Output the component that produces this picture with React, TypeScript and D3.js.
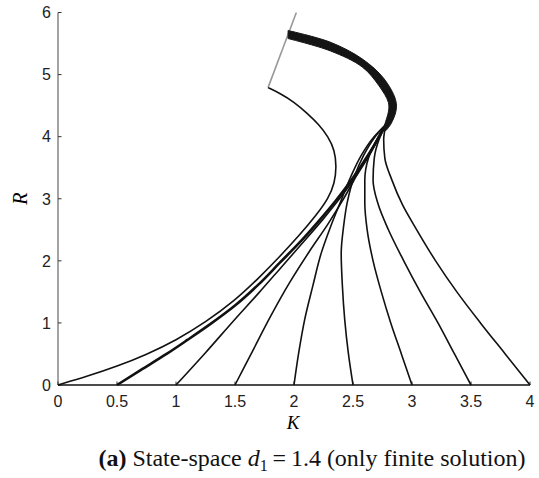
import React, { useRef, useEffect } from 'react';
import * as d3 from 'd3';

type Pt = [number, number];

// tick labels
const kTicks = [0, 0.5, 1, 1.5, 2, 2.5, 3, 3.5, 4];
const rTicks = [0, 1, 2, 3, 4, 5, 6];

// trajectories in (K, R)
const fromK0: Pt[] = [
  [0, 0], [0.25, 0.14], [0.5, 0.3], [0.75, 0.49], [1.0, 0.72], [1.25, 1.01],
  [1.5, 1.36], [1.7, 1.72], [1.88, 2.07], [2.05, 2.42], [2.19, 2.74], [2.29, 3.0],
  [2.345, 3.25], [2.36, 3.52], [2.345, 3.78], [2.29, 4.0], [2.21, 4.2], [2.11, 4.38],
  [2.0, 4.56], [1.88, 4.7], [1.78, 4.79],
];
const fromK05: Pt[] = [
  [0.5, 0], [0.7, 0.24], [0.92, 0.5], [1.1, 0.73], [1.29, 0.98], [1.5, 1.28],
  [1.7, 1.62], [1.88, 1.97], [2.05, 2.3], [2.2, 2.62], [2.35, 2.96], [2.5, 3.34],
  [2.65, 3.77], [2.78, 4.2],
];
const fromK1: Pt[] = [
  [1.0, 0], [1.25, 0.52], [1.5, 1.06], [1.7, 1.48], [1.88, 1.87], [2.05, 2.24],
  [2.25, 2.68], [2.45, 3.16], [2.62, 3.64], [2.78, 4.2],
];
const fromK15: Pt[] = [
  [1.5, 0], [1.65, 0.55], [1.8, 1.1], [1.96, 1.64], [2.13, 2.15], [2.29, 2.6],
  [2.42, 3.0], [2.55, 3.44], [2.67, 3.84], [2.78, 4.2],
];
const fromK2: Pt[] = [
  [2.0, 0], [2.04, 0.52], [2.09, 1.05], [2.16, 1.6], [2.23, 2.12], [2.31, 2.55],
  [2.39, 2.93], [2.48, 3.35], [2.57, 3.7], [2.67, 3.98], [2.78, 4.2],
];
const fromK25: Pt[] = [
  [2.5, 0], [2.46, 0.52], [2.43, 1.05], [2.41, 1.6], [2.4, 2.12], [2.42, 2.55],
  [2.45, 2.93], [2.51, 3.35], [2.59, 3.7], [2.68, 3.98], [2.78, 4.2],
];
const fromK3: Pt[] = [
  [3.0, 0], [2.91, 0.5], [2.82, 1.0], [2.74, 1.5], [2.67, 2.0], [2.62, 2.5],
  [2.6, 2.93], [2.6, 3.3], [2.63, 3.65], [2.7, 3.95], [2.78, 4.2],
];
const fromK35: Pt[] = [
  [3.5, 0], [3.36, 0.5], [3.22, 1.0], [3.07, 1.5], [2.93, 2.0], [2.8, 2.5],
  [2.71, 2.93], [2.67, 3.3], [2.68, 3.65], [2.72, 3.95], [2.78, 4.2],
];
const fromK4: Pt[] = [
  [4.0, 0], [3.79, 0.5], [3.58, 1.0], [3.38, 1.5], [3.2, 2.0], [3.04, 2.5],
  [2.92, 2.9], [2.83, 3.3], [2.77, 3.65], [2.76, 3.95], [2.78, 4.2],
];

// bundle of trajectories after they merge
const bandOuter: Pt[] = [
  [1.95, 5.71], [2.31, 5.52], [2.58, 5.25], [2.76, 4.94], [2.86, 4.6],
  [2.865, 4.42], [2.82, 4.2], [2.78, 4.1],
];
const bandInner: Pt[] = [
  [1.95, 5.58], [2.31, 5.38], [2.58, 5.12], [2.72, 4.82], [2.8, 4.55],
  [2.8, 4.4], [2.77, 4.2], [2.76, 4.1],
];

// grey boundary line
const boundary: Pt[] = [[1.78, 4.79], [2.02, 6.0]];

const fan = [fromK1, fromK15, fromK2, fromK25, fromK3, fromK35, fromK4];

const App = () => {
  const svgRef = useRef<SVGSVGElement>(null);
  const width = 539;
  const height = 478;

  useEffect(() => {
    const svg = d3.select(svgRef.current);
    svg.selectAll('*').remove();

    const x = d3.scaleLinear().domain([0, 4]).range([58, 530]);
    const y = d3.scaleLinear().domain([0, 6]).range([385, 12.5]);

    const line = d3.line<Pt>()
      .x(d => x(d[0]))
      .y(d => y(d[1]))
      .curve(d3.curveCatmullRom.alpha(0.5));

    const smooth = d3.line<Pt>()
      .x(d => x(d[0]))
      .y(d => y(d[1]))
      .curve(d3.curveBasis);

    // trajectories are monotone in R, draw them top-down so screen y increases
    const traj = d3.line<Pt>()
      .x(d => x(d[0]))
      .y(d => y(d[1]))
      .curve(d3.curveMonotoneY);
    const trajPath = (pts: Pt[]) => traj(pts.slice().reverse());

    const sans = '"Liberation Sans", Arial, sans-serif';
    const serif = '"Liberation Serif", "Times New Roman", serif';

    // y axis
    svg.append('line')
      .attr('x1', x(0)).attr('x2', x(0))
      .attr('y1', y(0)).attr('y2', y(6))
      .attr('stroke', '#666').attr('stroke-width', 1.2);

    rTicks.forEach(t => {
      svg.append('line')
        .attr('x1', x(0)).attr('x2', x(0) + 3.5)
        .attr('y1', y(t)).attr('y2', y(t))
        .attr('stroke', '#333').attr('stroke-width', 1);
      svg.append('text')
        .attr('x', x(0) - 7)
        .attr('y', y(t))
        .attr('dy', '0.36em')
        .attr('text-anchor', 'end')
        .style('font-family', sans)
        .style('font-size', '16px')
        .style('fill', '#222')
        .text(t);
    });

    // x axis
    kTicks.forEach(t => {
      svg.append('line')
        .attr('x1', x(t)).attr('x2', x(t))
        .attr('y1', y(0)).attr('y2', y(0) - 3.5)
        .attr('stroke', '#333').attr('stroke-width', 1);
      svg.append('text')
        .attr('x', x(t))
        .attr('y', y(0) + 22)
        .attr('text-anchor', 'middle')
        .style('font-family', sans)
        .style('font-size', '16px')
        .style('fill', '#222')
        .text(t);
    });

    // boundary
    svg.append('path')
      .attr('d', line(boundary))
      .attr('fill', 'none')
      .attr('stroke', '#999')
      .attr('stroke-width', 1.6);

    // trajectories
    svg.append('path')
      .attr('d', smooth(fromK0))
      .attr('fill', 'none')
      .attr('stroke', '#111')
      .attr('stroke-width', 1.6);

    svg.append('path')
      .attr('d', trajPath(fromK05))
      .attr('fill', 'none')
      .attr('stroke', '#111')
      .attr('stroke-width', 2.6);

    fan.forEach(pts => {
      svg.append('path')
        .attr('d', trajPath(pts))
        .attr('fill', 'none')
        .attr('stroke', '#111')
        .attr('stroke-width', 1.6);
    });

    // merged bundle
    const outerPath = line(bandOuter) || '';
    const innerPath = (line(bandInner.slice().reverse()) || '').replace(/^M/, 'L');
    svg.append('path')
      .attr('d', outerPath + innerPath + 'Z')
      .attr('fill', '#151515')
      .attr('stroke', '#151515')
      .attr('stroke-width', 1);

    svg.append('line')
      .attr('x1', x(0)).attr('x2', x(4))
      .attr('y1', y(0)).attr('y2', y(0))
      .attr('stroke', '#111').attr('stroke-width', 1.3);

    // axis titles
    svg.append('text')
      .attr('transform', `translate(27, ${y(3)}) rotate(-90)`)
      .attr('text-anchor', 'middle')
      .style('font-family', serif)
      .style('font-style', 'italic')
      .style('font-size', '20px')
      .text('R');

    svg.append('text')
      .attr('x', x(2) - 1)
      .attr('y', 429)
      .attr('text-anchor', 'middle')
      .style('font-family', serif)
      .style('font-style', 'italic')
      .style('font-size', '19px')
      .text('K');

    // caption
    const cap = svg.append('text')
      .attr('x', 312)
      .attr('y', 466)
      .attr('text-anchor', 'middle')
      .style('font-family', serif)
      .style('font-size', '24px')
      .style('fill', '#111');
    cap.append('tspan').style('font-weight', 'bold').text('(a)');
    cap.append('tspan').text(' State-space ');
    cap.append('tspan').style('font-style', 'italic').text('d');
    cap.append('tspan').attr('dy', 5).style('font-size', '16px').text('1');
    cap.append('tspan').attr('dy', -5).text('\u2009=\u20091.4 (only finite solution)');
  }, []);

  return (
    <svg
      ref={svgRef}
      width={width}
      height={height}
      style={{ position: 'absolute', left: 0, top: 0, background: '#fff' }}
    />
  );
};

export default App;
